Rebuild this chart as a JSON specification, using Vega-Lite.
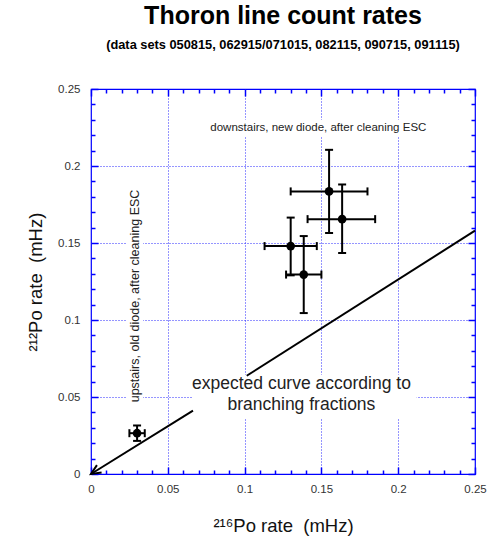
{
  "$schema": "https://vega.github.io/schema/vega-lite/v6.json",
  "autosize": {"type": "none"},
  "padding": {"left": 91, "top": 89, "right": 13, "bottom": 67},
  "width": 384,
  "height": 385,
  "title": {
    "text": "Thoron line count rates",
    "subtitle": "(data sets 050815, 062915/071015, 082115, 090715, 091115)",
    "anchor": "middle",
    "font": "Liberation Sans",
    "fontSize": 25,
    "fontWeight": "bold",
    "color": "#000000",
    "subtitleFont": "Liberation Sans",
    "subtitleFontSize": 12.8,
    "subtitleFontWeight": "bold",
    "subtitleColor": "#000000",
    "subtitlePadding": 10,
    "offset": 31
  },
  "config": {
    "view": {"stroke": "#0000ff", "strokeWidth": 1.2},
    "font": "Liberation Sans",
    "axis": {
      "domain": false,
      "labelFont": "Liberation Sans",
      "labelFontSize": 11.5,
      "labelColor": "#333333",
      "labelFlush": false,
      "ticks": true,
      "tickColor": "#0000ff",
      "tickWidth": 1.5,
      "titleFont": "Liberation Sans",
      "titleFontWeight": "normal",
      "titleColor": "#111111"
    }
  },
  "datasets": {
    "pts": [
      {"x": 0.155, "y": 0.1835, "xlo": 0.130, "xhi": 0.180, "ylo": 0.1565, "yhi": 0.2105},
      {"x": 0.1635, "y": 0.1655, "xlo": 0.141, "xhi": 0.185, "ylo": 0.1435, "yhi": 0.188},
      {"x": 0.130, "y": 0.148, "xlo": 0.113, "xhi": 0.147, "ylo": 0.129, "yhi": 0.1665},
      {"x": 0.1385, "y": 0.1295, "xlo": 0.127, "xhi": 0.150, "ylo": 0.1045, "yhi": 0.1545},
      {"x": 0.030, "y": 0.0265, "xlo": 0.025, "xhi": 0.035, "ylo": 0.0215, "yhi": 0.0315}
    ]
  },
  "resolve": {"axis": {"x": "independent", "y": "independent"}},
  "layer": [
    {
      "data": {"name": "pts"},
      "mark": {"type": "tick", "orient": "horizontal", "color": "#000000", "size": 8, "thickness": 2, "opacity": 1},
      "encoding": {
        "x": {"field": "x", "type": "quantitative", "scale": {"domain": [0, 0.25], "nice": false},
          "axis": {"orient": "bottom", "values": [0.05, 0.1, 0.15, 0.2], "ticks": false, "labels": false, "grid": true, "gridColor": "#2a2aff", "gridDash": [1, 2], "gridWidth": 1, "title": null}},
        "y": {"field": "ylo", "type": "quantitative", "scale": {"domain": [0, 0.25], "nice": false},
          "axis": {"orient": "left", "values": [0.05, 0.1, 0.15, 0.2], "ticks": false, "labels": false, "grid": true, "gridColor": "#2a2aff", "gridDash": [1, 2], "gridWidth": 1, "title": null}}
      }
    },
    {
      "data": {"values": [
        {"x": 0.0765, "x2": 0.2198, "y": 0.2195, "y2": 0.2300},
        {"x": 0.0228, "x2": 0.0339, "y": 0.0435, "y2": 0.187},
        {"x": 0.066, "x2": 0.212, "y": 0.0364, "y2": 0.0645}
      ]},
      "mark": {"type": "rect", "color": "#ffffff"},
      "encoding": {
        "x": {"field": "x", "type": "quantitative", "axis": {"orient": "bottom", "values": [0.01, 0.02, 0.03, 0.04, 0.06, 0.07, 0.08, 0.09, 0.11, 0.12, 0.13, 0.14, 0.16, 0.17, 0.18, 0.19, 0.21, 0.22, 0.23, 0.24], "tickSize": -4, "labels": false, "grid": false, "title": null}},
        "x2": {"field": "x2"},
        "y": {"field": "y", "type": "quantitative", "axis": {"orient": "left", "values": [0.01, 0.02, 0.03, 0.04, 0.06, 0.07, 0.08, 0.09, 0.11, 0.12, 0.13, 0.14, 0.16, 0.17, 0.18, 0.19, 0.21, 0.22, 0.23, 0.24], "tickSize": -4, "labels": false, "grid": false, "title": null}},
        "y2": {"field": "y2"}
      }
    },
    {
      "data": {"name": "pts"},
      "mark": {"type": "rule", "color": "#000000", "strokeWidth": 2},
      "encoding": {
        "x": {"field": "xlo", "type": "quantitative", "axis": {"orient": "top", "values": [0, 0.05, 0.1, 0.15, 0.2, 0.25], "tickSize": -7, "labels": false, "grid": false, "title": null}},
        "x2": {"field": "xhi"},
        "y": {"field": "y", "type": "quantitative", "axis": {"orient": "right", "values": [0, 0.05, 0.1, 0.15, 0.2, 0.25], "tickSize": -7, "labels": false, "grid": false, "title": null}}
      }
    },
    {
      "data": {"name": "pts"},
      "mark": {"type": "rule", "color": "#000000", "strokeWidth": 2},
      "encoding": {
        "x": {"field": "x", "type": "quantitative", "axis": {"orient": "top", "values": [0.01, 0.02, 0.03, 0.04, 0.06, 0.07, 0.08, 0.09, 0.11, 0.12, 0.13, 0.14, 0.16, 0.17, 0.18, 0.19, 0.21, 0.22, 0.23, 0.24], "tickSize": -4, "labels": false, "grid": false, "title": null}},
        "y": {"field": "ylo", "type": "quantitative", "axis": {"orient": "right", "values": [0.01, 0.02, 0.03, 0.04, 0.06, 0.07, 0.08, 0.09, 0.11, 0.12, 0.13, 0.14, 0.16, 0.17, 0.18, 0.19, 0.21, 0.22, 0.23, 0.24], "tickSize": -4, "labels": false, "grid": false, "title": null}},
        "y2": {"field": "yhi"}
      }
    },
    {
      "data": {"name": "pts"},
      "mark": {"type": "point", "filled": true, "color": "#000000", "size": 75, "opacity": 1},
      "encoding": {
        "x": {"field": "x", "type": "quantitative",
          "axis": {"orient": "bottom", "values": [0, 0.05, 0.1, 0.15, 0.2, 0.25], "format": "~g", "offset": -7, "tickSize": 7,
            "labelPadding": 9, "grid": false,
            "title": "²¹⁶Po rate\u00a0 (mHz)", "titleFontSize": 18.5, "titlePadding": 22}},
        "y": {"field": "y", "type": "quantitative",
          "axis": {"orient": "left", "values": [0, 0.05, 0.1, 0.15, 0.2, 0.25], "format": "~g", "offset": -7, "tickSize": 7,
            "labelPadding": 11, "grid": false,
            "title": "²¹²Po rate\u00a0 (mHz)", "titleFontSize": 18.5, "titlePadding": 12}}
      }
    },
    {
      "data": {"name": "pts"},
      "mark": {"type": "tick", "orient": "horizontal", "color": "#000000", "size": 8, "thickness": 2, "opacity": 1},
      "encoding": {
        "x": {"field": "x", "type": "quantitative", "axis": null},
        "y": {"field": "yhi", "type": "quantitative", "axis": null}
      }
    },
    {
      "data": {"name": "pts"},
      "mark": {"type": "tick", "orient": "vertical", "color": "#000000", "size": 8, "thickness": 2, "opacity": 1},
      "encoding": {
        "x": {"field": "xlo", "type": "quantitative", "axis": null},
        "y": {"field": "y", "type": "quantitative", "axis": null}
      }
    },
    {
      "data": {"name": "pts"},
      "mark": {"type": "tick", "orient": "vertical", "color": "#000000", "size": 8, "thickness": 2, "opacity": 1},
      "encoding": {
        "x": {"field": "xhi", "type": "quantitative", "axis": null},
        "y": {"field": "y", "type": "quantitative", "axis": null}
      }
    },
    {
      "data": {"values": [
        {"seg": 1, "x": 0, "y": 0},
        {"seg": 1, "x": 0.0664, "y": 0.0411},
        {"seg": 2, "x": 0.1014, "y": 0.0638},
        {"seg": 2, "x": 0.25, "y": 0.158}
      ]},
      "mark": {"type": "line", "color": "#000000", "strokeWidth": 2},
      "encoding": {
        "x": {"field": "x", "type": "quantitative", "axis": null},
        "y": {"field": "y", "type": "quantitative", "axis": null},
        "detail": {"field": "seg", "type": "nominal"}
      }
    },
    {
      "data": {"values": [{"x": 0, "y": 0}]},
      "mark": {"type": "point", "shape": "M 1 -0.45 L 0 0 L 1 0.45", "filled": false, "stroke": "#000000", "strokeWidth": 2, "size": 380, "angle": 328, "opacity": 1},
      "encoding": {
        "x": {"field": "x", "type": "quantitative", "axis": null},
        "y": {"field": "y", "type": "quantitative", "axis": null}
      }
    },
    {
      "data": {"values": [{"x": 0.148, "y": 0.2247, "t": "downstairs, new diode, after cleaning ESC"}]},
      "mark": {"type": "text", "font": "Liberation Sans", "fontSize": 11.5, "color": "#222222", "align": "center", "baseline": "middle"},
      "encoding": {
        "x": {"field": "x", "type": "quantitative", "axis": null},
        "y": {"field": "y", "type": "quantitative", "axis": null},
        "text": {"field": "t"}
      }
    },
    {
      "data": {"values": [{"x": 0.0286, "y": 0.1156, "t": "upstairs, old diode, after cleaning ESC"}]},
      "mark": {"type": "text", "font": "Liberation Sans", "fontSize": 12.5, "color": "#222222", "align": "center", "baseline": "middle", "angle": 270},
      "encoding": {
        "x": {"field": "x", "type": "quantitative", "axis": null},
        "y": {"field": "y", "type": "quantitative", "axis": null},
        "text": {"field": "t"}
      }
    },
    {
      "data": {"values": [{"x": 0.137, "y": 0.0583, "t": "expected curve according to\nbranching fractions"}]},
      "mark": {"type": "text", "font": "Liberation Sans", "fontSize": 17.5, "color": "#222222", "align": "center", "baseline": "middle", "lineBreak": "\n", "lineHeight": 21},
      "encoding": {
        "x": {"field": "x", "type": "quantitative", "axis": null},
        "y": {"field": "y", "type": "quantitative", "axis": null},
        "text": {"field": "t"}
      }
    }
  ]
}
